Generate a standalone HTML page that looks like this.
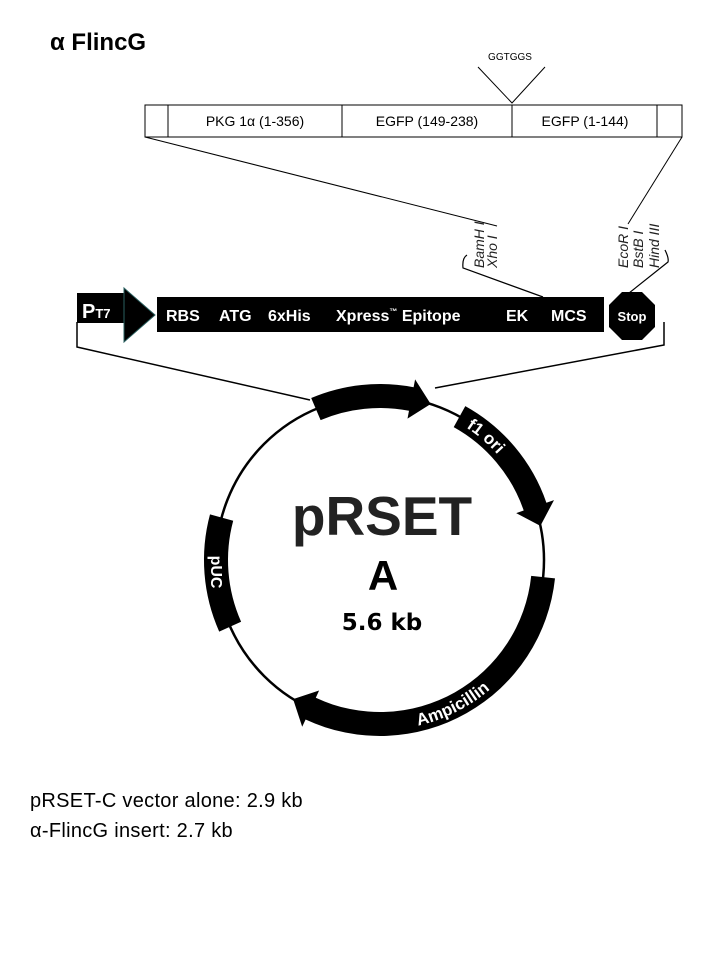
<!DOCTYPE html>
<html><head><meta charset="utf-8"><style>
html,body{margin:0;padding:0;background:#fff;}
svg{display:block;}
</style></head><body>
<svg id="s" width="720" height="960" viewBox="0 0 720 960" xmlns="http://www.w3.org/2000/svg" font-family="Liberation Sans, Arial, sans-serif">
<text x="50" y="50" font-size="24" font-weight="bold">α FlincG</text>
<text x="510" y="60" font-size="10" text-anchor="middle">GGTGGS</text>
<polyline points="478,67 512,103 545,67" fill="none" stroke="#000" stroke-width="1"/>
<rect x="145" y="105" width="537" height="32" fill="#fff" stroke="#000" stroke-width="1"/>
<line x1="168" y1="105" x2="168" y2="137" stroke="#000"/>
<line x1="342" y1="105" x2="342" y2="137" stroke="#000"/>
<line x1="512" y1="105" x2="512" y2="137" stroke="#000"/>
<line x1="657" y1="105" x2="657" y2="137" stroke="#000"/>
<g font-size="14" text-anchor="middle">
<text x="255" y="126">PKG 1α (1-356)</text>
<text x="427" y="126">EGFP (149-238)</text>
<text x="585" y="126">EGFP (1-144)</text>
</g>
<line x1="145" y1="137" x2="497" y2="226" stroke="#000"/>
<line x1="682" y1="137" x2="628" y2="224" stroke="#000"/>
<g font-size="14" font-style="italic" fill="#222">
<text transform="translate(484,268) rotate(-90)">BamH I</text>
<text transform="translate(497,268) rotate(-90)">Xho I</text>
<text transform="translate(628,268) rotate(-90)">EcoR I</text>
<text transform="translate(643,268) rotate(-90)">BstB I</text>
<text transform="translate(659,268) rotate(-90)">Hind III</text>
</g>
<path d="M467,255 Q462,258 463,268 L543,297" fill="none" stroke="#000" stroke-width="1.2"/>
<path d="M665,250 Q669,258 668,262 L624,297" fill="none" stroke="#000" stroke-width="1.2"/>
<rect x="77" y="293" width="48" height="30" fill="#000"/>
<text x="82" y="318" font-size="20" font-weight="bold" fill="#fff">P<tspan font-size="13">T7</tspan></text>
<polygon points="124,288 155,315 124,342" fill="#000" stroke="#2a6060" stroke-width="1"/>
<rect x="157" y="297" width="447" height="35" fill="#000"/>
<g font-size="16" font-weight="bold" fill="#fff">
<text x="166" y="321">RBS</text>
<text x="219" y="321">ATG</text>
<text x="268" y="321">6xHis</text>
<text x="336" y="321">Xpress<tspan font-size="8" dy="-7">™</tspan><tspan dy="7"> Epitope</tspan></text>
<text x="506" y="321">EK</text>
<text x="551" y="321">MCS</text>
</g>
<polygon points="622,292 642,292 655,305 655,327 642,340 622,340 609,327 609,305" fill="#000"/>
<text x="632" y="321" font-size="13" font-weight="bold" fill="#fff" text-anchor="middle">Stop</text>
<polyline points="77,322 77,347 310,400" fill="none" stroke="#000" stroke-width="1.5"/>
<polyline points="664,322 664,345 435,388" fill="none" stroke="#000" stroke-width="1.5"/>
<circle cx="380" cy="560" r="164" fill="none" stroke="#000" stroke-width="2.5"/>
<g id="arcs" fill="#000"></g>
<text x="382" y="535" font-size="55" font-weight="bold" text-anchor="middle" fill="#222">pRSET</text>
<text x="383" y="590" font-size="42" font-weight="bold" text-anchor="middle">A</text>
<text x="382" y="630" font-size="23" font-weight="bold" text-anchor="middle" font-family="DejaVu Sans, sans-serif">5.6 kb</text>
<defs>
<path id="pf1" d=""/>
<path id="pamp" d=""/>
</defs>
<text font-size="17" font-weight="bold" fill="#fff"><textPath href="#pf1">f1 ori</textPath></text>
<text font-size="17" font-weight="bold" fill="#fff"><textPath href="#pamp">Ampicillin</textPath></text>
<text transform="translate(211,572) rotate(90)" font-size="16" font-weight="bold" fill="#fff" text-anchor="middle">pUC</text>
<g font-size="20" font-family="Liberation Sans, sans-serif" letter-spacing="0.3">
<text x="30" y="807">pRSET-C vector alone:  2.9 kb</text>
<text x="30" y="837">α-FlincG insert:  2.7 kb</text>
</g>
</svg>
<script>
var cx=380,cy=560,R=164,w=12;
function P(a,r){var t=a*Math.PI/180;return [(cx+r*Math.sin(t)).toFixed(1),(cy-r*Math.cos(t)).toFixed(1)];}
function seg(a1,a2,arrow){
 var d,ro=R+w,ri=R-w;
 if(arrow==1){
  var b=a2-7,L=(b-a1>180?1:0);
  d='M'+P(a1,ro)+' A'+ro+','+ro+' 0 '+L+' 1 '+P(b,ro)+' L'+P(b,R+w+8)+' L'+P(a2,R)+' L'+P(b,R-w-8)+' L'+P(b,ri)+' A'+ri+','+ri+' 0 '+L+' 0 '+P(a1,ri)+'Z';
 } else {
  d='M'+P(a1,ro)+' A'+ro+','+ro+' 0 0 1 '+P(a2,ro)+' L'+P(a2,ri)+' A'+ri+','+ri+' 0 0 0 '+P(a1,ri)+'Z';
 }
 var e=document.createElementNS('http://www.w3.org/2000/svg','path');e.setAttribute('d',d);document.getElementById('arcs').appendChild(e);
}
seg(-23,18,1);
seg(29,78,1);
seg(96,212,1);
seg(246,285,0);
var r1=R-6;
document.getElementById('pf1').setAttribute('d','M'+P(33,r1)+' A'+r1+','+r1+' 0 0 1 '+P(75,r1));
var r2=R+6;
document.getElementById('pamp').setAttribute('d','M'+P(167,r2)+' A'+r2+','+r2+' 0 0 0 '+P(110,r2));
</script>
</body></html>
